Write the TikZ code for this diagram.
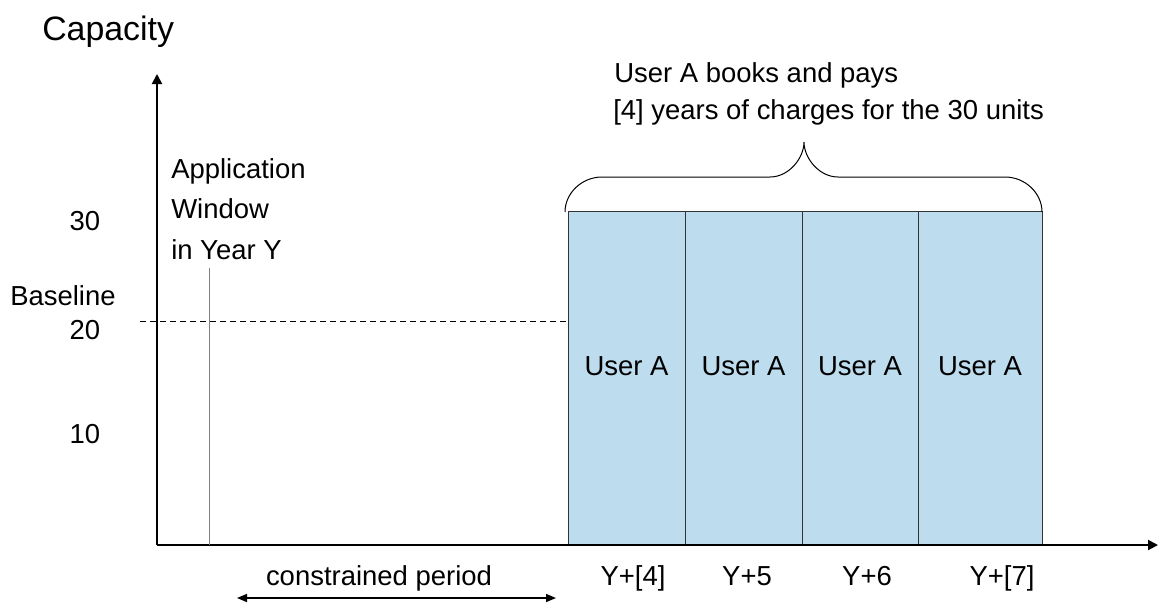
\documentclass[tikz,border=0pt]{standalone}
\usepackage{fontspec}
\setmainfont{Liberation Sans}
\usetikzlibrary{arrows.meta}
\definecolor{boxblue}{HTML}{BDDCEE}
\begin{document}
\begin{tikzpicture}[x=0.75pt,y=-0.75pt,
    txt/.style={font=\fontsize{20.6}{30.5}\selectfont, inner sep=0pt},
    userbox/.style={fill=boxblue, draw=black!80, line width=0.75pt},
    axis/.style={line width=1.5pt, -{Triangle[length=7.5pt,width=7.5pt]}}]
  \useasboundingbox (0,0) rectangle (1162,604);
  \node[txt, font=\fontsize{25.4}{30}\selectfont, anchor=base west] (cap) at (42,40) {Capacity};
  % the four booked years
  \foreach \i/\xa/\xb/\xl/\yr in {1/568/685/633/Y+[4], 2/685/802/747/Y+5, 3/802/918/867/Y+6, 4/918/1042/1002/Y+[7]} {
    \draw[userbox] (\xa,211) rectangle (\xb,545);
    \node[txt] (u\i) at ({(\xa+\xb)/2},366) {User A};
    \node[txt, anchor=base] (y\i) at (\xl,585) {\yr};
  }
  \coordinate (O) at (157,545);
  \coordinate (ytop) at (157,74);
  \coordinate (xend) at (1158,545);
  \draw[axis] (O) -- (ytop);
  \draw[axis] (O) -- (xend);
  % tick labels
  \node[txt, anchor=base] (t30) at (85,230) {30};
  \node[txt, anchor=base west] (base) at (10,305) {Baseline};
  \node[txt, anchor=base] (t20) at (85,339) {20};
  \node[txt, anchor=base] (t10) at (85,443) {10};
  \draw[line width=0.75pt, dash pattern=on 4.5pt off 3pt] (140,321) -- (568,321);
  % application window
  \node[txt, anchor=north west, align=left] (win) at (171,158) {Application\\Window\\in Year Y};
  \draw[gray, line width=0.4pt] (209,268) -- (209,545);
  % brace over the four years
  \draw[line width=0.75pt] (565,212) .. controls (565,193) and (582,177) .. (602,177) -- (770,177)
    .. controls (789,177) and (804,158) .. (804,142)
    .. controls (804,158) and (819,177) .. (838,177) -- (1005,177)
    .. controls (1025,177) and (1042,193) .. (1042,212);
  \node[txt, anchor=base west, align=left] (book1) at (614,82) {User A books and pays};
  \node[txt, anchor=base west, align=left] (book2) at (613,119) {[4] years of charges for the 30 units};
  % constrained period
  \node[txt, anchor=base] (cons) at (379,585) {constrained period};
  \coordinate (c1) at (237,598);
  \coordinate (c2) at (556,598);
  \draw[line width=1.1pt, {Triangle[length=7.5pt,width=6pt]}-{Triangle[length=7.5pt,width=6pt]}] (c1) -- (c2);
\end{tikzpicture}
\end{document}
